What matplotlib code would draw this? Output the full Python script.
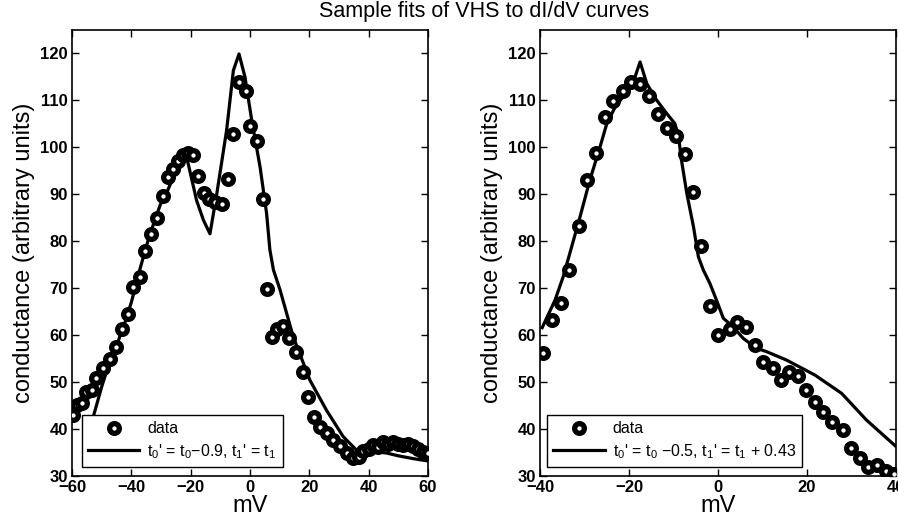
import matplotlib
matplotlib.use("Agg")
import matplotlib.pyplot as plt

plt.rcParams['font.family'] = ['Liberation Sans', 'DejaVu Sans']
plt.rcParams['mathtext.fontset'] = 'custom'
plt.rcParams['mathtext.rm'] = 'Liberation Sans'
plt.rcParams['mathtext.it'] = 'Liberation Sans'

# left panel: measured dI/dV (mV, conductance)
left_mv = [-59.6, -58.4, -56.7, -55.3, -53.4, -51.9, -49.4, -47.2, -45.2, -43.3,
           -41.0, -39.3, -37.1, -35.3, -33.4, -31.2, -29.2, -27.5, -25.8, -24.2,
           -22.5, -20.8, -19.1, -17.4, -15.5, -13.7, -11.8, -9.3, -7.5, -5.7,
           -3.7, -1.5, 0.1, 2.4, 4.3, 5.8, 7.3, 9.0, 11.0, 13.3,
           15.5, 17.8, 19.7, 21.6, 23.6, 25.8, 28.1, 30.3, 32.6, 34.8,
           36.6, 38.2, 40.0, 41.6, 43.3, 44.9, 46.6, 48.3, 50.0, 51.7,
           53.4, 55.1, 56.7, 58.4, 60.0]
left_g = [43.0, 45.1, 45.6, 47.9, 48.3, 50.8, 52.9, 55.0, 57.5, 61.4,
          64.6, 70.3, 72.4, 77.9, 81.6, 85.0, 89.6, 93.7, 95.5, 97.2,
          98.3, 98.7, 98.3, 93.9, 90.3, 88.9, 88.4, 87.9, 93.2, 102.8,
          113.9, 112.1, 104.5, 101.4, 88.9, 69.9, 59.6, 61.4, 61.9, 59.5,
          56.4, 52.2, 46.9, 42.6, 40.5, 39.1, 37.7, 36.3, 34.8, 33.8,
          34.0, 35.3, 35.8, 36.5, 36.2, 37.3, 36.8, 37.3, 36.8, 36.5,
          36.9, 36.3, 35.8, 35.2, 34.8]

# left panel: VHS fit
left_fit_mv = [-56, -54, -52, -50, -48, -46, -44, -42, -40,
               -37, -34, -30.3, -28, -25.8, -23.5, -21.3, -18, -15.7, -13.5,
               -11.2, -7.9, -5.6, -3.7, -1.7, 0.6, 3.4, 5.6, 6.7, 7.9,
               10.1, 14.6, 20.2, 25.8, 31.4, 37, 42, 46, 50, 55, 60]
left_fit_g = [35.5, 40.0, 44.5, 49.0, 53.0, 56.0, 59.5, 63.0, 67.0,
              74.3, 81.0, 87.7, 90.5, 93.7, 95.8, 97.8, 88.7, 84.5, 81.6,
              90.1, 103.6, 116.4, 119.9, 115.0, 105.7, 95.8, 85.9, 78.2, 73.9,
              69.7, 59.6, 50.4, 44.0, 38.4, 34.8, 35.2, 34.9, 34.3, 33.7, 33.2]

# right panel: measured dI/dV
right_mv = [-39.3, -37.4, -35.3, -33.4, -31.2, -29.4, -27.3, -25.4, -23.5, -21.4,
            -19.6, -17.5, -15.4, -13.4, -11.5, -9.5, -7.4, -5.7, -3.7, -1.8,
            0.1, 2.7, 4.3, 6.4, 8.3, 10.2, 12.3, 14.2, 16.0, 18.0,
            19.9, 21.8, 23.7, 25.7, 28.0, 30.0, 31.9, 33.8, 35.8, 37.8, 39.6]
right_g = [56.2, 63.2, 66.8, 73.8, 83.3, 93.0, 98.7, 106.4, 109.9, 112.0,
           114.0, 113.6, 110.9, 107.2, 104.2, 102.4, 98.6, 90.4, 78.9, 66.2,
           60.0, 61.4, 62.8, 61.8, 57.9, 54.3, 52.9, 50.4, 52.2, 51.2,
           48.4, 45.8, 43.7, 41.6, 39.8, 35.9, 33.8, 32.0, 32.4, 31.0, 30.5]

# right panel: VHS fit
right_fit_mv = [-39.5, -36.6, -34.8, -33.3, -31.0, -28.8, -26.5, -25.0, -23.1, -20.5,
                -19.0, -17.5, -16.0, -13.8, -11.5, -9.7, -8.9, -8.2, -7.0, -5.5,
                -4.4, -3.3, -1.8, -0.3, 1.2, 3.4, 5.7, 8.7, 10.9, 15.4,
                21.8, 27.8, 33.4, 40.0]
right_fit_g = [61.6, 67.5, 72.4, 77.4, 85.2, 93.0, 100.1, 105.0, 108.6, 111.8,
               114.0, 118.2, 113.6, 110.1, 107.2, 105.1, 102.6, 97.3, 90.2, 83.1,
               76.7, 73.9, 71.0, 67.4, 63.6, 61.8, 59.3, 57.2, 56.5, 54.7,
               51.5, 47.6, 41.9, 36.3]

panels = [
    (left_mv, left_g, left_fit_mv, left_fit_g, (-60, 60), range(-60, 61, 20),
     "t$_0$' = t$_0$\u22120.9, t$_1$' = t$_1$", 0.028),
    (right_mv, right_g, right_fit_mv, right_fit_g, (-40, 40), range(-40, 41, 20),
     "t$_0$' = t$_0$ \u22120.5, t$_1$' = t$_1$ + 0.43", 0.02),
]

fig = plt.figure(figsize=(8.98, 5.24), dpi=100)
lefts = [0.0802, 0.6013]

for left, (mv, g, fmv, fg, xlim, xt, lab, lx) in zip(lefts, panels):
    ax = fig.add_axes([left, 0.0916, 0.3964, 0.8511])
    ax.plot(mv, g, 'o', ms=7, mfc='white', mec='black', mew=3.8, label='data', zorder=3)
    ax.plot(fmv, fg, '-', color='black', lw=2.3, label=lab, zorder=2)
    ax.set_xlim(*xlim)
    ax.set_ylim(30, 125)
    ax.set_xticks(list(xt))
    ax.set_yticks(range(30, 121, 10))
    ax.tick_params(direction='in', top=True, right=True, length=5, width=1,
                   labelsize=12, pad=3)
    for t in ax.get_xticklabels() + ax.get_yticklabels():
        t.set_fontweight('bold')
    for s in ax.spines.values():
        s.set_linewidth(1.2)
    ax.set_xlabel("mV", fontsize=17, labelpad=0)
    ax.set_ylabel("conductance (arbitrary units)", fontsize=17, labelpad=4)
    leg = ax.legend(loc='lower left', bbox_to_anchor=(lx, 0.02), borderaxespad=0,
                    fontsize=11.5, handlelength=3.2, handletextpad=0.5,
                    fancybox=False, framealpha=1, edgecolor='black',
                    borderpad=0.4, labelspacing=0.35)
    leg.get_frame().set_linewidth(1.0)

fig.text(0.539, 0.998, "Sample fits of VHS to dI/dV curves", ha='center', va='top',
         fontsize=15.5)

fig.savefig("out.png", dpi=100)
